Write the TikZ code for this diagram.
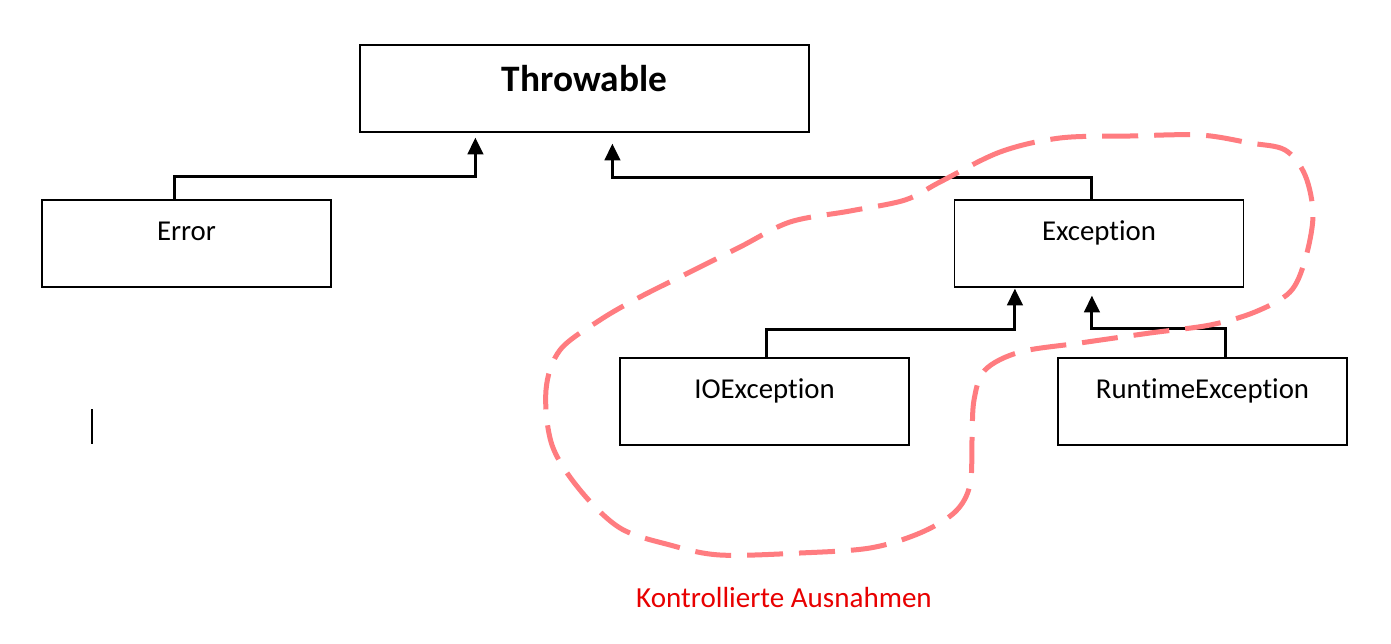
\documentclass[tikz,border=0pt]{standalone}
\usepackage{fontspec}
\setmainfont{Carlito}[Ligatures=NoCommon]
\usetikzlibrary{arrows.meta,calc}
\definecolor{dashred}{RGB}{255,124,128}
\definecolor{labred}{RGB}{232,0,0}
\begin{document}
\begin{tikzpicture}[x=0.75pt,y=-0.75pt,
  box/.style={draw=black,line width=0.9pt,minimum width=216.75pt,minimum height=65.25pt,
    inner sep=0pt,font=\fontsize{21.6}{25}\selectfont,text height=14pt,text depth=19pt},
  conn/.style={line width=2.25pt,-{Triangle[length=12.5pt,width=11.5pt]}},
  loop/.style={draw=dashred,line width=3.75pt,dash pattern=on 27pt off 12pt}]
\fill[white] (0,0) rectangle (1391,643);
\useasboundingbox (0,0) rectangle (1391,643);

\node[box,minimum width=336.75pt,text height=19pt,text depth=14.5pt] (thr) at (584.5,88.5)
  {\bfseries\fontsize{28}{32}\selectfont Throwable};
\node[box] (err) at (186.5,243.5) {Error};
\node[box] (exc) at (1099,243.5) {Exception};
\node[box] (ioe) at (764.5,401.5) {IOException};
\node[box] (rte) at (1202.5,401.5) {RuntimeException};

\draw[conn] ($(err.north west)+(133,0)$) |- ($(thr.south west)+(116,44)$) -- ($(thr.south west)+(116,5)$);
\draw[conn] ($(exc.north west)+(138,0)$) |- ($(thr.south west)+(253,45)$) -- ($(thr.south west)+(253,11)$);
\draw[conn] ($(ioe.north west)+(147,0)$) |- ($(exc.south west)+(61,42)$) -- ($(exc.south west)+(61,1)$);
\draw[conn] ($(rte.north west)+(168,0)$) |- ($(exc.south west)+(138,41)$) -- ($(exc.south west)+(138,8)$);

\draw[line width=1pt] (92,409) -- (92,444);

\node[text=labred,font=\fontsize{21.8}{25}\selectfont,inner sep=0pt] (lab) at (784,598) {Kontrollierte Ausnahmen};

\draw[loop] plot[smooth cycle,tension=0.55] coordinates {
 (940,182) (1000,152) (1060,138) (1130,136) (1200,135) (1250,143) (1285,150)
 (1305,175) (1313,215) (1305,260) (1290,292) (1255,312) (1210,325) (1150,333)
 (1080,343) (1020,352) (985,370) (974,400) (972,440) (970,485) (955,512)
 (920,533) (870,548) (800,553) (720,555) (670,545) (620,528) (580,490)
 (552,445) (546,390) (560,350) (600,320) (640,297) (690,272) (740,247)
 (790,222) (850,211) (905,200)};
\end{tikzpicture}
\end{document}
